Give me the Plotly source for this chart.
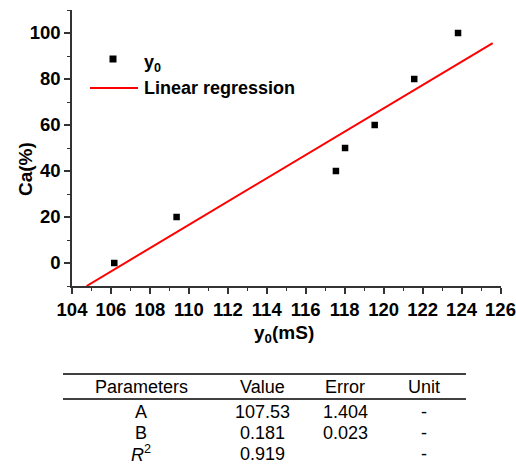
import plotly.graph_objects as go

# ---- data ----
y0_mS = [106.17, 109.37, 117.55, 118.02, 119.54, 121.57, 123.82]
ca_pct = [0, 20, 40, 50, 60, 80, 100]

fit_x = [104.75, 125.6]
fit_y = [-10, 95.6]

table_header = ["Parameters", "Value", "Error", "Unit"]
param_names = ["A", "B", "<i>R</i><sup>2</sup>"]
param_values = ["107.53", "0.181", "0.919"]
param_errors = ["1.404", "0.023", ""]
param_units = ["-", "-", "-"]

W, H = 516, 465
FONT = "Liberation Sans, Arial, sans-serif"


def px(x):
    return x / W


def py(y):
    return 1 - y / H


fig = go.Figure()
fig.add_trace(go.Scatter(
    x=y0_mS, y=ca_pct, mode="markers", name="y<sub>0</sub>",
    marker=dict(symbol="square", size=6.5, color="black"),
    showlegend=False, cliponaxis=False,
))
fig.add_trace(go.Scatter(
    x=fit_x, y=fit_y, mode="lines", name="Linear regression",
    line=dict(color="#ff0000", width=2),
    showlegend=False,
))

axis_common = dict(
    showline=True, linecolor="#333333", linewidth=1.5,
    ticks="outside", ticklen=6, tickwidth=1.5, tickcolor="#333333",
    showgrid=False, zeroline=False, automargin=False,
    ticklabeloverflow="allow",
    tickfont=dict(family=FONT, size=18.5, color="black", weight="bold"),
    fixedrange=True,
)

fig.update_layout(
    width=W, height=H,
    margin=dict(l=0, r=0, t=0, b=0, autoexpand=False),
    paper_bgcolor="white", plot_bgcolor="white",
    showlegend=False,
    xaxis=dict(
        domain=[px(72), px(500.5)],
        range=[104, 126], dtick=2, tick0=104,
        minor=dict(dtick=1, ticks="outside", ticklen=3.5, tickwidth=1.2, tickcolor="#333333"),
        **axis_common,
    ),
    yaxis=dict(
        domain=[py(286), py(10)],
        range=[-10, 110], dtick=20, tick0=0,
        minor=dict(dtick=10, tick0=0, ticks="outside", ticklen=3.5, tickwidth=1.2, tickcolor="#333333"),
        **axis_common,
    ),
)

annotations = []
shapes = []

# axis titles
annotations.append(dict(
    text="Ca(%)", x=px(25), y=py(169), xref="paper", yref="paper",
    showarrow=False, textangle=-90, xanchor="center", yanchor="middle",
    font=dict(family=FONT, size=19, color="black", weight="bold"),
))
annotations.append(dict(
    text="y<sub>0</sub>(mS)", x=px(284), y=py(334), xref="paper", yref="paper",
    showarrow=False, xanchor="center", yanchor="middle",
    font=dict(family=FONT, size=19, color="black", weight="bold"),
))

# legend (drawn manually)
shapes.append(dict(type="rect", xref="paper", yref="paper",
                   x0=px(109.5), x1=px(116.5), y0=py(62.5), y1=py(55.5),
                   fillcolor="black", line=dict(width=0)))
annotations.append(dict(
    text="y<sub>0</sub>", x=px(142), y=py(63), xref="paper", yref="paper",
    showarrow=False, xanchor="left", yanchor="middle",
    font=dict(family=FONT, size=18, color="black", weight="bold"),
))
shapes.append(dict(type="line", xref="paper", yref="paper",
                   x0=px(90), x1=px(138), y0=py(88), y1=py(88),
                   line=dict(color="#ff0000", width=2)))
annotations.append(dict(
    text="Linear regression", x=px(142), y=py(88), xref="paper", yref="paper",
    showarrow=False, xanchor="left", yanchor="middle",
    font=dict(family=FONT, size=18, color="black", weight="bold"),
))

# table
col_x = [141, 262, 345, 424]
row_y = [387, 411.5, 432.5, 453.5]
tfont = dict(family=FONT, size=18, color="black")
for cx, txt in zip(col_x, table_header):
    annotations.append(dict(text=txt, x=px(cx), y=py(row_y[0]), xref="paper", yref="paper",
                            showarrow=False, xanchor="center", yanchor="middle", font=tfont))
for i in range(len(param_names)):
    for cx, txt in zip(col_x, [param_names[i], param_values[i], param_errors[i], param_units[i]]):
        if txt:
            annotations.append(dict(text=txt, x=px(cx), y=py(row_y[i + 1]), xref="paper", yref="paper",
                                    showarrow=False, xanchor="center", yanchor="middle", font=tfont))
for ly in [374, 399]:
    shapes.append(dict(type="line", xref="paper", yref="paper",
                       x0=px(63), x1=px(466), y0=py(ly), y1=py(ly),
                       line=dict(color="black", width=1.3)))

fig.update_layout(annotations=annotations, shapes=shapes)
fig.write_html("out.html")
